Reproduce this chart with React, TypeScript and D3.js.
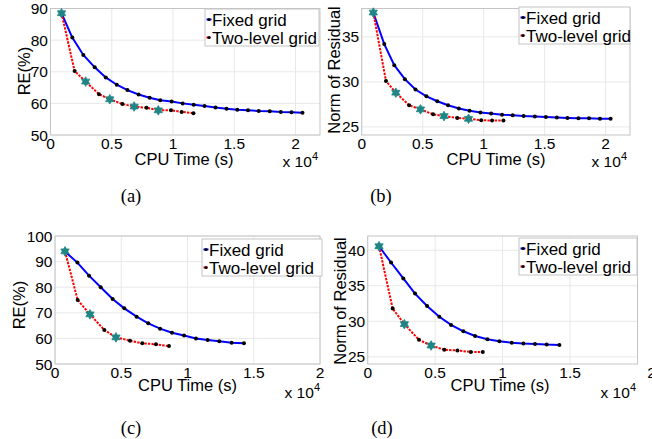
import * as d3 from 'd3';

// CPU time in seconds
const aFixedX = [900, 1780, 2680, 3610, 4510, 5410, 6280, 7190, 8090, 8960, 9890, 10790, 11690, 12570, 13470, 14370, 15250, 16120, 17000, 17900, 18800, 19670, 20570];
const aFixedY = [88.5, 80.8, 75.3, 71.4, 68.2, 65.9, 64.2, 62.8, 61.8, 61.0, 60.6, 60.0, 59.6, 59.2, 58.7, 58.3, 58.0, 57.8, 57.6, 57.5, 57.3, 57.2, 57.0];
const aTwoX = [900, 1970, 2870, 3960, 4840, 5870, 6830, 7840, 8800, 9840, 10710, 11670];
const aTwoY = [88.5, 70.2, 66.9, 62.9, 61.3, 59.8, 59.0, 58.6, 57.8, 57.8, 57.3, 56.9];
const aStars = [0, 2, 4, 6, 8];

const bFixedX = [950, 1850, 2670, 3540, 4410, 5310, 6200, 7080, 7970, 8840, 9740, 10610, 11510, 12380, 13280, 14200, 15100, 16000, 16870, 17770, 18640, 19540, 20410];
const bFixedY = [37.7, 34.2, 31.85, 30.3, 29.15, 28.4, 27.85, 27.4, 27.05, 26.8, 26.6, 26.5, 26.35, 26.3, 26.2, 26.15, 26.1, 26.05, 26.0, 25.95, 25.95, 25.9, 25.9];
const bTwoX = [950, 1990, 2800, 3890, 4820, 5850, 6750, 7840, 8760, 9800, 10690, 11620];
const bTwoY = [37.7, 30.1, 28.8, 27.4, 26.95, 26.4, 26.2, 26.0, 25.9, 25.75, 25.7, 25.7];
const bStars = [0, 2, 4, 6, 8];

const cFixedX = [755, 1690, 2570, 3450, 4350, 5230, 6160, 7040, 7930, 8830, 9740, 10640, 11520, 12400, 13330, 14260];
const cFixedY = [93.9, 89.6, 84.5, 79.95, 75.4, 71.75, 68.5, 65.9, 63.8, 62.2, 61.1, 60.0, 59.4, 58.9, 58.3, 58.1];
const cTwoX = [755, 1710, 2640, 3720, 4600, 5660, 6590, 7620, 8600];
const cTwoY = [94.0, 75.0, 69.4, 63.3, 60.4, 59.1, 58.1, 57.7, 57.0];
const cStars = [0, 2, 4];

const dFixedX = [840, 1730, 2640, 3510, 4400, 5310, 6180, 7090, 7960, 8870, 9760, 10680, 11540, 12400, 13270, 14210];
const dFixedY = [40.56, 38.27, 36.03, 33.9, 32.15, 30.65, 29.5, 28.6, 27.94, 27.48, 27.2, 27.0, 26.87, 26.82, 26.73, 26.68];
const dTwoX = [840, 1850, 2720, 3800, 4700, 5680, 6650, 7640, 8530];
const dTwoY = [40.56, 31.8, 29.6, 27.4, 26.6, 26.0, 25.9, 25.7, 25.7];
const dStars = [0, 2, 4];

const xTicksWide = [0, 0.5, 1, 1.5, 2];
const aYTicks = [50, 60, 70, 80, 90];
const bYTicks = [25, 30, 35];
const cYTicks = [50, 60, 70, 80, 90, 100];
const dYTicks = [25, 30, 35, 40];

const legendNames = ['Fixed grid', 'Two-level grid'];
const captions = ['(a)', '(b)', '(c)', '(d)'];

const SANS = 'Liberation Sans, Arial, sans-serif';
const BLUE = '#0000ff';
const RED = '#ff0000';
const STAR = '#1f8585';

// six pointed star like MATLAB's hexagram marker
const hexagram = (r: number) => {
  const pts = d3.range(12).map(i => [i * Math.PI / 6, i % 2 === 0 ? r : r / Math.sqrt(3)] as [number, number]);
  return d3.lineRadial().curve(d3.curveLinearClosed)(pts) || '';
};

function Panel(p: any) {
  const x = d3.scaleLinear().domain(p.xDomain).range([p.left, p.right]);
  const y = d3.scaleLinear().domain(p.yDomain).range([p.bottom, p.top]);
  const fixed = p.fixedX.map((v: number, i: number) => [v / 1e4, p.fixedY[i]]);
  const two = p.twoX.map((v: number, i: number) => [v / 1e4, p.twoY[i]]);
  const line = d3.line<number[]>().x(d => x(d[0])).y(d => y(d[1]));
  const star = hexagram(4.8);
  const lx = p.legend[0];
  const ly = p.legend[1];

  return (
    <g>
      <rect x={p.left} y={p.top} width={p.right - p.left} height={p.bottom - p.top} fill="#fff" />
      {p.xTicks.map((t: number) => (
        <line key={'gx' + t} x1={x(t)} x2={x(t)} y1={p.top} y2={p.bottom} stroke="#e8e8e8" />
      ))}
      {p.yTicks.map((t: number) => (
        <line key={'gy' + t} x1={p.left} x2={p.right} y1={y(t)} y2={y(t)} stroke="#e8e8e8" />
      ))}
      <rect x={p.left} y={p.top} width={p.right - p.left} height={p.bottom - p.top} fill="none" stroke="#c4c4c4" />

      {p.xTicks.map((t: number, i: number) => (
        <text key={'tx' + t} x={x(t) + (i === p.xTicks.length - 1 ? p.lastShift : 0)} y={p.bottom + 13.5}
          textAnchor="middle" fontSize={15.5} fontFamily={SANS}>{t}</text>
      ))}
      {p.yTicks.map((t: number) => (
        <text key={'ty' + t} x={p.left - 2.5} y={y(t)} dy="0.36em" textAnchor="end" fontSize={15.5} fontFamily={SANS}>{t}</text>
      ))}

      <path d={line(fixed) || ''} fill="none" stroke={BLUE} strokeWidth={2} />
      {fixed.map((d: number[], i: number) => (
        <circle key={'fd' + i} cx={x(d[0])} cy={y(d[1])} r={2} fill="#000" />
      ))}
      <path d={line(two) || ''} fill="none" stroke={RED} strokeWidth={2} strokeDasharray="2.4,1.2" />
      {two.map((d: number[], i: number) => (
        <circle key={'td' + i} cx={x(d[0])} cy={y(d[1])} r={2} fill="#000" />
      ))}
      {p.stars.map((i: number) => (
        <path key={'s' + i} d={star} transform={`translate(${x(two[i][0])},${y(two[i][1])})`} fill={STAR} stroke={STAR} strokeWidth={0.8} />
      ))}

      <rect x={lx} y={ly} width={p.legendW} height={37} fill="#fff" stroke="#c4c4c4" />
      {legendNames.map((name, i) => (
        <g key={name} transform={`translate(${lx},${ly + 10.5 + i * 18})`}>
          <line x1={1.5} x2={6.5} y1={0} y2={0} stroke={i === 0 ? BLUE : RED} strokeWidth={2} strokeDasharray={i === 0 ? undefined : '1.5,1'} />
          <circle cx={4} cy={0} r={1.6} fill="#000" />
          <text x={7} y={0} dy="0.36em" fontSize={17} fontFamily={SANS}>{name}</text>
        </g>
      ))}

      <text transform={`translate(${p.yLabel[0]},${p.yLabel[1]}) rotate(-90)`} textAnchor="middle" dy="0.36em"
        fontSize={16.5} fontFamily={SANS}>{p.yName}</text>
      <text x={p.xLabel[0]} y={p.xLabel[1]} textAnchor="middle" fontSize={16.5} fontFamily={SANS}>CPU Time (s)</text>
      <text x={p.exp[0]} y={p.exp[1]} textAnchor="end" fontSize={15.5} fontFamily={SANS}>
        x 10<tspan dy={-7} fontSize={11}>4</tspan>
      </text>
      <text x={p.caption[0]} y={p.caption[1]} textAnchor="middle" fontSize={18.5} fontFamily="Liberation Serif, Times New Roman, serif">{p.captionText}</text>
    </g>
  );
}

export default function App() {
  const panels = [
    {
      left: 50.5, right: 320, top: 8.5, bottom: 135, xDomain: [0, 2.2], yDomain: [50, 90],
      xTicks: xTicksWide, yTicks: aYTicks, fixedX: aFixedX, fixedY: aFixedY, twoX: aTwoX, twoY: aTwoY, stars: aStars,
      legend: [205, 9], legendW: 114, yName: 'RE(%)', yLabel: [24, 71], xLabel: [184, 165], exp: [318, 167],
      caption: [131, 202], captionText: captions[0], lastShift: 0,
    },
    {
      left: 361.7, right: 630, top: 8.5, bottom: 135, xDomain: [0, 2.2], yDomain: [24.1, 38.15],
      xTicks: xTicksWide, yTicks: bYTicks, fixedX: bFixedX, fixedY: bFixedY, twoX: bTwoX, twoY: bTwoY, stars: bStars,
      legend: [519, 7], legendW: 111, yName: 'Norm of Residual', yLabel: [334, 70], xLabel: [496, 165], exp: [627, 167],
      caption: [381, 202], captionText: captions[1], lastShift: 0,
    },
    {
      left: 55, right: 320, top: 236, bottom: 364, xDomain: [0, 2], yDomain: [50, 100],
      xTicks: xTicksWide, yTicks: cYTicks, fixedX: cFixedX, fixedY: cFixedY, twoX: cTwoX, twoY: cTwoY, stars: cStars,
      legend: [202, 239], legendW: 120, yName: 'RE(%)', yLabel: [19, 305], xLabel: [187.5, 391], exp: [320, 398],
      caption: [131, 434], captionText: captions[2], lastShift: 0,
    },
    {
      left: 367.7, right: 637.5, top: 236, bottom: 364, xDomain: [0, 2], yDomain: [24, 42],
      xTicks: xTicksWide, yTicks: dYTicks, fixedX: dFixedX, fixedY: dFixedY, twoX: dTwoX, twoY: dTwoY, stars: dStars,
      legend: [519, 238], legendW: 118, yName: 'Norm of Residual', yLabel: [340, 301], xLabel: [500, 391], exp: [636, 398],
      caption: [382, 434], captionText: captions[3], lastShift: 14,
    },
  ];

  return (
    <svg width={652} height={439} style={{ position: 'absolute', left: 0, top: 0, background: '#fff' }}>
      {panels.map((p, i) => <Panel key={i} {...p} />)}
    </svg>
  );
}
